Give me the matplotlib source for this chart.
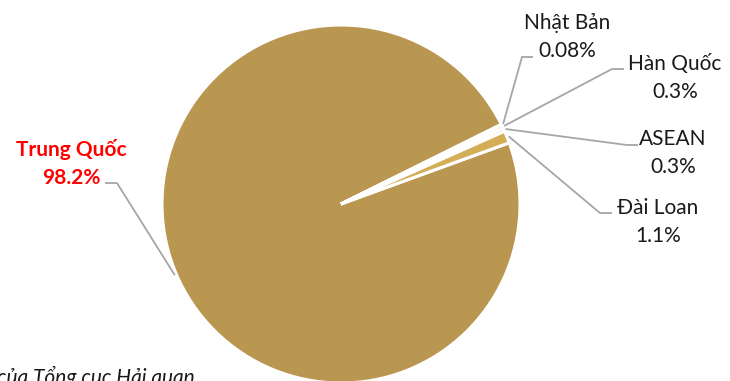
import numpy as np
import matplotlib
matplotlib.use("Agg")
import matplotlib.pyplot as plt

# data (share of value, %)
countries = ["Trung Quốc", "Nhật Bản", "Hàn Quốc", "ASEAN", "Đài Loan"]
shares = [98.2, 0.08, 0.3, 0.3, 1.1]
share_labels = ["98.2%", "0.08%", "0.3%", "0.3%", "1.1%"]
colors = ["#B99750", "#B99750", "#B99750", "#B99750", "#D4AD57"]

W, H = 730, 381
plt.rcParams["font.family"] = ["Lato", "DejaVu Sans"]

fig = plt.figure(figsize=(W / 100, H / 100), dpi=100)
ax = fig.add_axes([0, 0, 1, 1])

cx, cy, R = 341, H - 204, 179
wedges, _ = ax.pie(shares, colors=colors, startangle=20, counterclock=False,
                   center=(cx, cy), radius=R, frame=True,
                   wedgeprops=dict(edgecolor="white", linewidth=2.2))
ax.set_xlim(0, W)
ax.set_ylim(0, H)
ax.set_aspect("equal")
ax.axis("off")

# label layout: (text x, first-line y, elbow x, elbow y, end x) in pixels from top-left
layout = {
    "Trung Quốc": (71, 148, 117, 183, 105),
    "Nhật Bản": (567, 22, 522, 57, 533),
    "Hàn Quốc": (675, 63, 612, 69, 624),
    "ASEAN": (673, 138, 627, 145, 638),
    "Đài Loan": (658, 207, 600, 213, 612),
}

FS = 15
for w, name, lab in zip(wedges, countries, share_labels):
    tx, ty, ex, ey, endx = layout[name]
    mid = np.deg2rad((w.theta1 + w.theta2) / 2)
    sx, sy = cx + R * 1.01 * np.cos(mid), cy + R * 1.01 * np.sin(mid)
    ax.plot([sx, ex, endx], [sy, H - ey, H - ey], color="#A6A6A6", lw=1.3,
            solid_capstyle="butt")
    red = name == "Trung Quốc"
    ax.text(tx, H - ty - 15, f"{name}\n{lab}", ha="center", va="center",
            fontsize=FS, linespacing=1.5,
            color="#FF0000" if red else "#1A1A1A",
            fontweight="bold" if red else "normal")

fig.text(-0.004, 1 - 377 / H, "của Tổng cục Hải quan", ha="left", va="center",
         fontsize=FS, style="italic", color="#1A1A1A")

fig.savefig("out.png", dpi=100)
